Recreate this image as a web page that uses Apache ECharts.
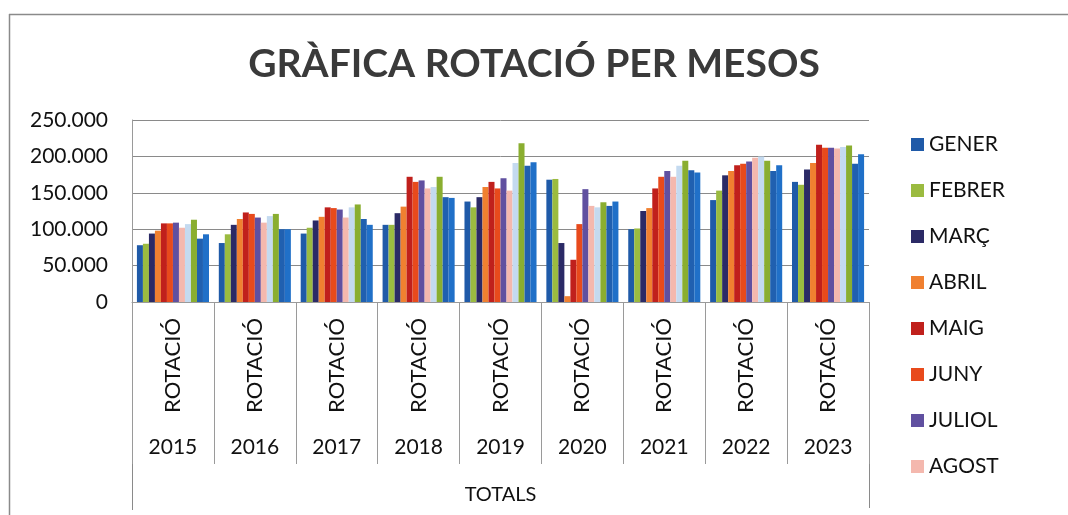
<!DOCTYPE html>
<html>
<head>
<meta charset="utf-8">
<script src="https://cdn.jsdelivr.net/npm/echarts@6/dist/echarts.min.js"></script>
<style>
html,body{margin:0;padding:0;background:#fff;}
#c{width:1068px;height:515px;}
</style>
</head>
<body>
<div id="c"></div>
<script>
const years = ['2015','2016','2017','2018','2019','2020','2021','2022','2023'];
const months = ['GENER','FEBRER','MARÇ','ABRIL','MAIG','JUNY','JULIOL','AGOST','SETEMBRE','OCTUBRE','NOVEMBRE','DESEMBRE'];
const legendMonths = ['GENER','FEBRER','MARÇ','ABRIL','MAIG','JUNY','JULIOL','AGOST'];
const yTicks = [0, 50000, 100000, 150000, 200000, 250000];

const gener    = [78000, 81000, 94000, 106000, 138000, 168000, 100000, 140000, 165000];
const febrer   = [80000, 93000, 102000, 106000, 130000, 169000, 101000, 153000, 161000];
const marc     = [94000, 106000, 112000, 122000, 144000, 81000, 125000, 174000, 182000];
const abril    = [98000, 114000, 117000, 131000, 158000, 8000, 129000, 180000, 191000];
const maig     = [108000, 123000, 130000, 172000, 165000, 58000, 156000, 188000, 216000];
const juny     = [108000, 121000, 129000, 165000, 156000, 107000, 172000, 190000, 212000];
const juliol   = [109000, 116000, 127000, 167000, 170000, 155000, 180000, 193000, 212000];
const agost    = [102000, 109000, 116000, 156000, 153000, 132000, 172000, 198000, 211000];
const setembre = [107000, 118000, 130000, 158000, 191000, 130000, 187000, 200000, 213000];
const octubre  = [113000, 121000, 134000, 172000, 218000, 137000, 194000, 194000, 215000];
const novembre = [87000, 100000, 114000, 144000, 187000, 132000, 181000, 180000, 190000];
const desembre = [93000, 100000, 106000, 143000, 192000, 138000, 178000, 188000, 203000];

const values = [gener, febrer, marc, abril, maig, juny, juliol, agost, setembre, octubre, novembre, desembre];
const colors = ['#1f5aa8','#9bbb40','#2b2a66','#f08030','#c0201c','#e84a1c','#6050a0','#f4b8ae','#c4daf0','#8aae30','#2060b0','#2070c8'];

const fmt = v => String(v).replace(/\B(?=(\d{3})+(?!\d))/g, '.');
const FONT = 'Lato, "Open Sans", sans-serif';
const TXT = '#111';

const chart = echarts.init(document.getElementById('c'), null, {renderer:'canvas'});
chart.setOption({
  animation: false,
  backgroundColor: '#fff',
  color: colors,
  title: {
    text: 'GRÀFICA ROTACIÓ PER MESOS',
    left: 'center',
    top: 40,
    textStyle: {fontFamily: FONT, fontSize: 39, fontWeight: 'bold', color: '#3a3a3a'}
  },
  legend: {
    data: legendMonths,
    orient: 'vertical',
    left: 906,
    top: 129,
    itemWidth: 13,
    itemHeight: 13,
    itemGap: 25,
    icon: 'rect',
    textStyle: {fontFamily: FONT, fontSize: 21, color: TXT}
  },
  grid: {left: 132, right: 199, top: 120, bottom: 213, containLabel: false},
  xAxis: [
    {
      type: 'category',
      data: years,
      position: 'bottom',
      axisLine: {show: true, lineStyle: {color: '#9a9a9a', width: 1}},
      axisTick: {show: true, length: 162, lineStyle: {color: '#9a9a9a', width: 1}},
      axisLabel: {
        formatter: () => 'ROTACIÓ',
        rotate: 90,
        margin: 16,
        fontFamily: FONT, fontSize: 22, color: TXT
      }
    },
    {
      type: 'category',
      data: years,
      position: 'bottom',
      offset: 128,
      axisLine: {show: false},
      axisTick: {show: false},
      axisLabel: {margin: 7, fontFamily: FONT, fontSize: 21, color: TXT},
      name: 'TOTALS',
      nameLocation: 'middle',
      nameGap: 55,
      nameTextStyle: {fontFamily: FONT, fontSize: 20, color: TXT}
    }
  ],
  yAxis: {
    type: 'value',
    min: yTicks[0],
    max: yTicks[yTicks.length-1],
    interval: 50000,
    axisLine: {show: true, lineStyle: {color: '#9a9a9a'}},
    axisTick: {show: false},
    splitLine: {show: true, lineStyle: {color: '#8a8a8a', width: 1}},
    axisLabel: {formatter: fmt, margin: 24, fontFamily: FONT, fontSize: 21, color: TXT}
  },
  graphic: [
    {type: 'line', shape: {x1: 9.5, y1: 14, x2: 9.5, y2: 515}, style: {stroke: '#8a8a8a', lineWidth: 1.5}},
    {type: 'line', shape: {x1: 9, y1: 14.5, x2: 1068, y2: 14.5}, style: {stroke: '#8a8a8a', lineWidth: 1.5}},
    {type: 'line', shape: {x1: 132.5, y1: 302, x2: 132.5, y2: 510}, style: {stroke: '#8a8a8a', lineWidth: 1}},
    {type: 'line', shape: {x1: 869.5, y1: 302, x2: 869.5, y2: 508}, style: {stroke: '#8a8a8a', lineWidth: 1}}
  ],
  series: months.map((m, i) => ({
    name: m,
    type: 'bar',
    xAxisIndex: 0,
    data: values[i],
    barGap: '0%',
    barCategoryGap: '12%',
    itemStyle: {color: colors[i]}
  }))
});
</script>
</body>
</html>
